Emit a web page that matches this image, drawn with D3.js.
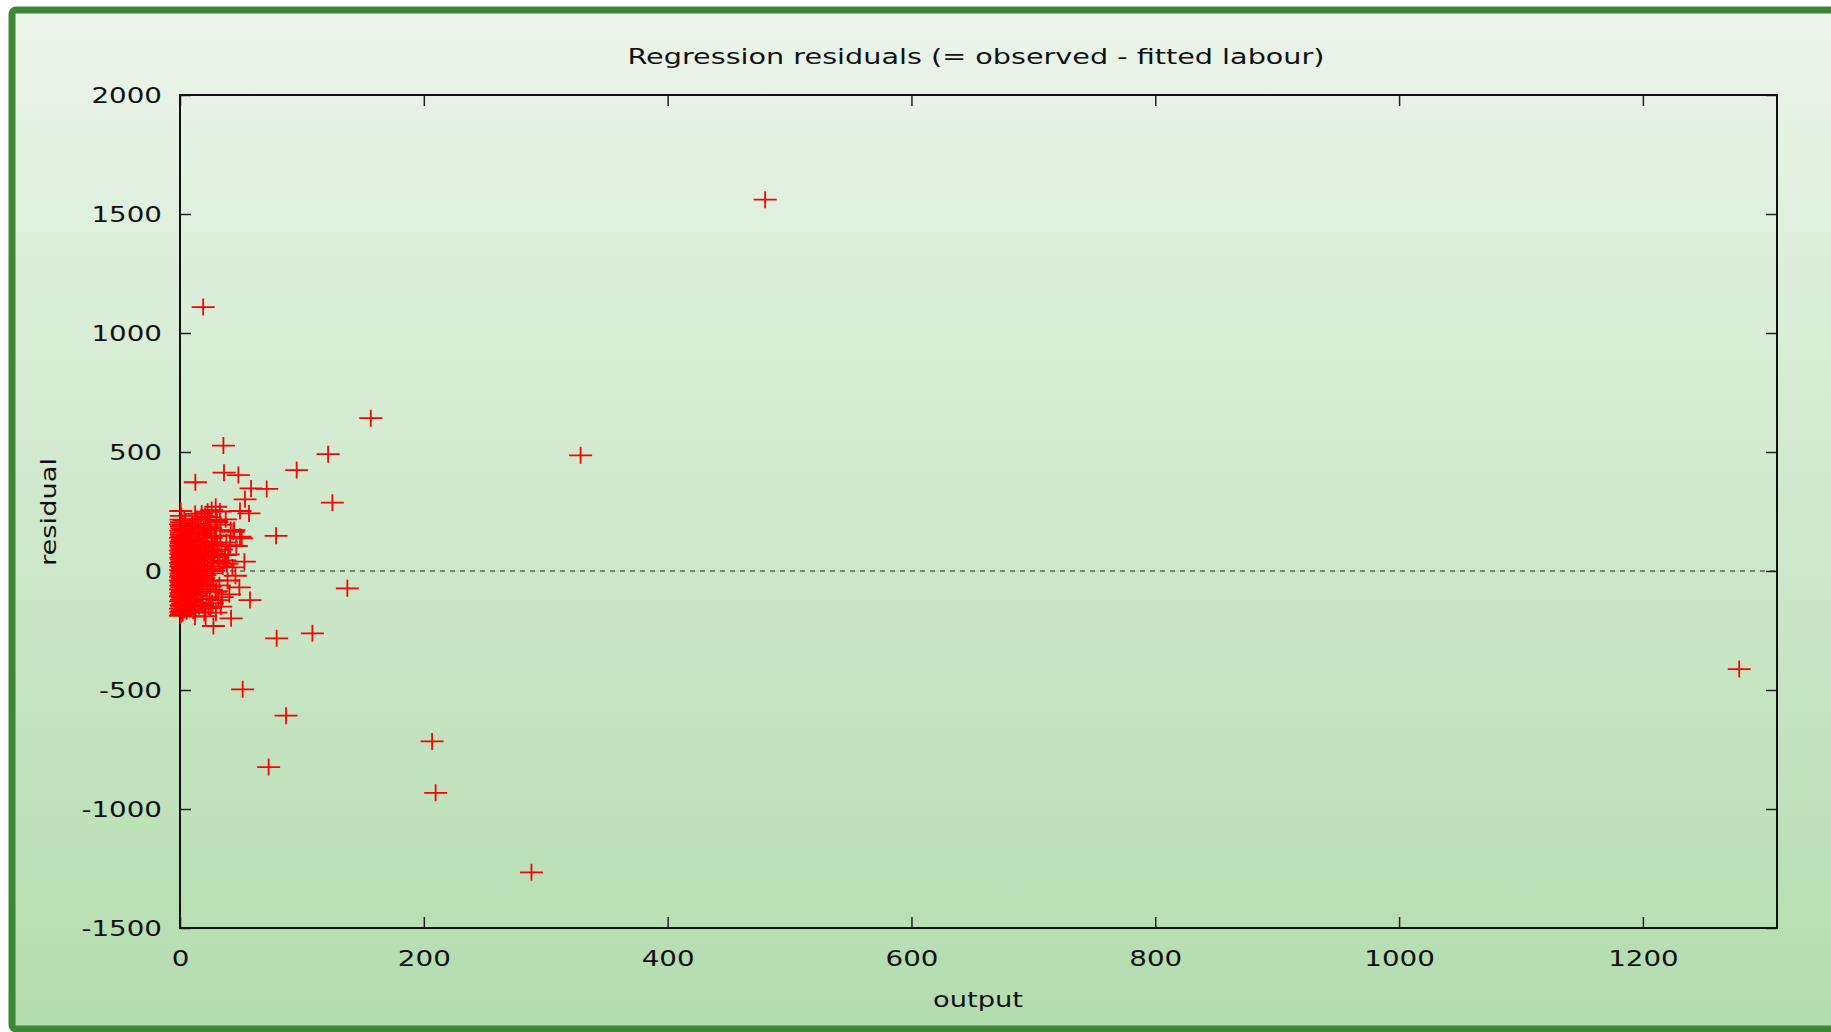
<!DOCTYPE html>
<html>
<head>
<meta charset="utf-8">
<script src="https://cdn.jsdelivr.net/npm/d3@7"></script>
<style>
  body { margin: 0; background: #fff; overflow: hidden; }
  text { font-family: "DejaVu Sans", sans-serif; fill: #111; }
</style>
</head>
<body>
<div id="chart"></div>
<script>
// values (output, residual pairs)
var output = [
  // dense column at output ~ 0-2
  0.4, 1.2, 0.7, 1.8, 0.3, 1.5, 0.9, 2.0, 0.6, 1.1,
  1.7, 0.5, 1.3, 0.8, 1.9, 0.4, 1.4, 0.7, 1.6, 1.0,
  0.3, 1.8, 0.6, 1.2, 0.9, 1.5, 0.5, 2.0, 0.8, 1.3,
  0.4, 1.7, 1.1, 0.6, 1.9, 0.7, 1.4, 0.3, 1.6, 1.0,
  0.5, 1.2, 0.8, 1.8, 0.4, 1.5, 0.9, 1.3, 0.6, 1.7,
  1.1, 0.5, 1.4, 0.8, 1.0, 0.6,
  // 2-5
  2.3, 3.6, 4.8, 2.9, 4.1, 3.3, 2.6, 4.5, 3.9, 2.2,
  4.9, 3.1, 2.7, 4.3, 3.5, 2.4, 4.7, 3.8, 2.8, 4.0,
  3.2, 2.5, 4.6, 3.7, 2.1, 4.4, 3.0, 4.8, 2.6, 3.4,
  4.2, 2.9, 3.9, 2.3, 4.5, 3.6, 2.7, 4.1, 3.3, 2.4,
  4.6, 3.0, 2.8, 4.3, 3.5,
  // 5-10
  5.4, 7.8, 6.2, 9.1, 5.9, 8.4, 6.8, 9.7, 5.2, 7.3,
  8.9, 6.5, 9.4, 5.7, 7.6, 8.1, 6.0, 9.9, 7.0, 5.5,
  8.6, 6.3, 9.2, 7.4, 5.8, 8.2, 6.7, 9.5, 7.1, 5.3,
  8.8, 6.4, 7.7, 9.0, 6.1, 8.3, 7.2, 9.6,
  // 10-18
  12.3, 10.8, 15.6, 11.4, 17.2, 13.5, 10.2, 16.4, 12.9, 14.7,
  11.1, 17.8, 13.0, 15.2, 10.5, 16.9, 12.1, 14.3, 11.7, 15.9,
  13.8, 10.9, 17.5, 12.6, 14.9, 11.3, 16.1, 13.2, 15.4, 10.6,
  14.0, 12.4,
  // 18-34
  18.6, 25.0, 27.4, 17.8, 24.6, 20.5, 27.4, 22.1, 19.3, 31.4,
  26.2, 21.4, 29.0, 23.7, 19.8, 32.5, 25.6, 20.9, 28.3, 23.1,
  30.2, 17.8, 22.7, 26.0, 29.3, 24.2, 21.0, 33.0, 19.5, 27.8,
  // 10-46, filling the fan
  11.5, 14.2, 16.8, 19.4, 22.6, 25.3, 28.1, 30.7, 13.6, 18.2,
  21.7, 24.4, 27.0, 15.1, 20.3, 23.5, 26.8, 29.6, 12.8, 17.0,
  32.3, 35.2, 38.0, 22.0, 26.5, 31.0, 16.2, 19.9, 24.0, 28.7,
  34.5, 14.8, 21.2, 25.8, 30.0, 36.8, 18.9, 23.3, 27.6, 33.2,
  12.2, 15.7, 20.6, 29.9, 39.5, 43.0, 46.2, 17.5, 25.1, 32.8,
  // scattered points and outliers
  35.6, 36.1, 47.9, 12.6, 58.3, 71.1, 53.3, 49.2, 56.6, 37.5,
  78.8, 43.7, 41.6, 44.3, 49.2, 50.6, 52.8, 37.0, 41.0, 137.3,
  57.4, 48.7, 40.5, 41.9, 29.5, 79.3, 108.6, 51.4, 87.0, 72.7,
  206.8, 209.7, 288.3, 1279, 480, 19.0, 156.5, 328.6, 121.5, 95.7,
  125.0, 34.0, 38.5, 45.5, 33.5, 39.0
];

var residual = [
  -188, -181, -172, -166, -158, -150, -143, -137, -128, -121,
  -113, -106, -99, -92, -84, -77, -70, -62, -55, -47,
  -40, -33, -25, -18, -11, -3, 4, 12, 19, 27,
  34, 41, 49, 56, 63, 71, 78, 86, 93, 101,
  108, 116, 123, 131, 139, 146, 154, 161, 170, 178,
  187, 196, 205, 216, 232, 252,

  -176, -163, -152, -141, -133, -119, -110, -97, -88, -79,
  -68, -60, -51, -43, -36, -27, -20, -12, -6, 2,
  9, 15, 23, 30, 38, 45, 52, 60, 67, 74,
  82, 89, 97, 104, 112, 120, 128, 137, 145, 152,
  163, 174, 188, 203, 214,

  -168, -150, -139, -124, -115, -101, -90, -82, -71, -63,
  -52, -45, -37, -29, -21, -14, -7, 0, 8, 16,
  24, 31, 39, 47, 55, 62, 70, 79, 88, 96,
  105, 114, 124, 135, 147, 160, 176, 193,

  -192, -166, -148, -131, -117, -102, -88, -74, -61, -50,
  -38, -26, -15, -4, 7, 18, 29, 41, 53, 64,
  76, 88, 99, 111, 124, 137, 151, 166, 182, 199,
  218, 240,

  -143, -157, -231, -108, -66, -17, 11, -45, 30, -122,
  58, 76, -88, 95, 120, 36, 138, 160, 112, 185,
  205, 242, 249, 256, 270, 225, -190, 150, 175, 82,

  -140, -95, -62, -30, 5, 40, 72, 105, 130, 160,
  -118, -78, -40, 22, 55, 88, 118, 147, -160, 190,
  -60, 20, 120, 185, -135, 60, -20, -175, 215, 170,
  -110, 70, 140, -10, 210, 45, -55, -150, 0, 195,
  100, -75, 230, -85, 70, 15, 105, 48, 180, 250,

  527, 413, 403, 373, 347, 345, 301, 252, 242, 217,
  148, 165, 172, 172, 144, 137, 39, 67, 109, -73,
  -122, -69, -98, -199, -175, -283, -262, -497, -608, -824,
  -716, -932, -1266, -412, 1560, 1109, 642, 486, 491, 424,
  287, 90, 30, -20, -150, -40
];

var xTicks = [0, 200, 400, 600, 800, 1000, 1200];
var yTicks = [-1500, -1000, -500, 0, 500, 1000, 1500, 2000];
var titleText = "Regression residuals (= observed - fitted labour)";
var xLabel = "output";
var yLabel = "residual";

var W = 1831, H = 1032;
var margin = {top: 95, right: 54, bottom: 104, left: 180},
    width = W - margin.left - margin.right,
    height = H - margin.top - margin.bottom;

var svg = d3.select("#chart")
  .append("svg")
    .attr("width", W)
    .attr("height", H);

// background gradient + green frame
var grad = svg.append("defs").append("linearGradient")
  .attr("id", "bg")
  .attr("x1", 0).attr("y1", 0).attr("x2", 0).attr("y2", 1);
grad.append("stop").attr("offset", "0%").attr("stop-color", "#ebf5ea");
grad.append("stop").attr("offset", "100%").attr("stop-color", "#b3dcae");

svg.append("rect")
  .attr("x", 12).attr("y", 10)
  .attr("width", W + 20).attr("height", H - 13)
  .attr("rx", 4)
  .attr("fill", "url(#bg)")
  .attr("stroke", "#3d8734")
  .attr("stroke-width", 7);

var g = svg.append("g")
  .attr("transform", "translate(" + margin.left + "," + margin.top + ")");

var x = d3.scaleLinear().domain([0, 1310]).range([0, width]);
var y = d3.scaleLinear().domain([-1500, 2000]).range([height, 0]);

var plain = function(d) { return String(d); };

// axes: ticks point inward on all four sides
var tickLen = 11;
g.append("g")
  .attr("class", "axis")
  .attr("transform", "translate(0," + height + ")")
  .call(d3.axisBottom(x).tickValues(xTicks).tickSize(-tickLen).tickPadding(22).tickFormat(plain));
g.append("g")
  .attr("class", "axis")
  .call(d3.axisTop(x).tickValues(xTicks).tickSize(-tickLen).tickFormat(""));
g.append("g")
  .attr("class", "axis")
  .call(d3.axisLeft(y).tickValues(yTicks).tickSize(-tickLen).tickPadding(18).tickFormat(plain));
g.append("g")
  .attr("class", "axis")
  .attr("transform", "translate(" + width + ",0)")
  .call(d3.axisRight(y).tickValues(yTicks).tickSize(-tickLen).tickFormat(""));

g.selectAll(".axis .domain").remove();
g.selectAll(".axis line").attr("stroke", "#222").attr("stroke-width", 1.5);
g.selectAll(".axis text")
  .attr("font-family", "DejaVu Sans, sans-serif")
  .attr("font-size", 22)
  .attr("fill", "#111");

// zero line
g.append("line")
  .attr("x1", 0).attr("x2", width)
  .attr("y1", y(0)).attr("y2", y(0))
  .attr("stroke", "#222")
  .attr("stroke-width", 1.2)
  .attr("stroke-dasharray", "5,5");

// border
g.append("rect")
  .attr("width", width).attr("height", height)
  .attr("fill", "none")
  .attr("stroke", "#111")
  .attr("stroke-width", 2);

// points as "+" marks
var pts = output.map(function(d, i) { return {x: d, y: residual[i]}; });
g.selectAll(".pt")
  .data(pts)
  .enter()
  .append("path")
    .attr("class", "pt")
    .attr("transform", function(d) { return "translate(" + x(d.x) + "," + y(d.y) + ")"; })
    .attr("d", "M-11.5,0H11.5M0,-8.5V8.5")
    .attr("stroke", "#ff0000")
    .attr("stroke-width", 1.8)
    .attr("fill", "none");

// title and axis labels
svg.append("text")
  .attr("class", "title")
  .attr("x", 976).attr("y", 64)
  .attr("text-anchor", "middle")
  .attr("font-size", 21)
  .text(titleText);

svg.append("text")
  .attr("class", "lbl")
  .attr("x", 978).attr("y", 1007)
  .attr("text-anchor", "middle")
  .attr("font-size", 21)
  .text(xLabel);

svg.append("text")
  .attr("class", "lbl")
  .attr("transform", "translate(56,512) rotate(-90)")
  .attr("text-anchor", "middle")
  .attr("font-size", 21)
  .text(yLabel);

// the reference text is rendered wide, stretch glyphs along the baseline
svg.selectAll("text").each(function() {
  var t = d3.select(this);
  var len = this.getComputedTextLength();
  if (!len) return;
  var target = t.classed("title") ? 697 : len * (t.classed("lbl") ? 1.3 : 1.26);
  t.attr("textLength", target).attr("lengthAdjust", "spacingAndGlyphs");
});
</script>
</body>
</html>
